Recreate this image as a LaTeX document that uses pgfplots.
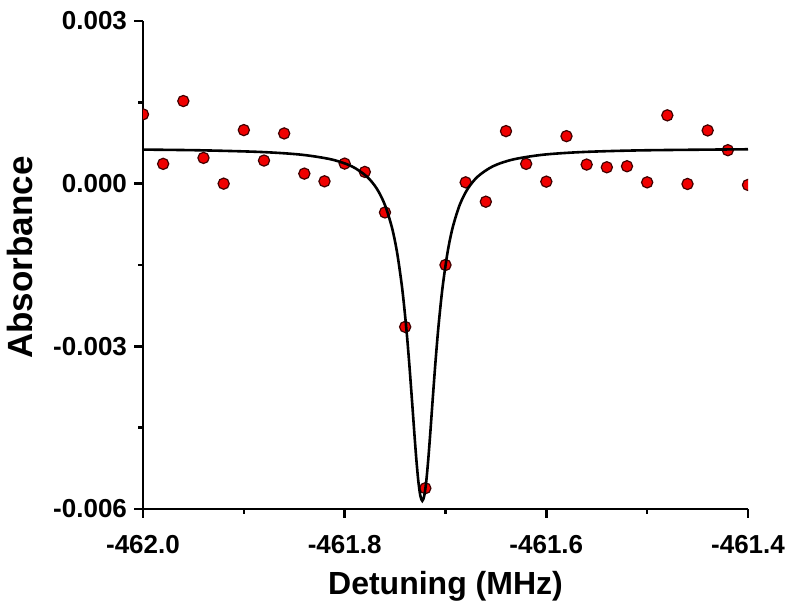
\documentclass[border=0pt]{standalone}
\usepackage{fontspec}
\setmainfont{Liberation Sans}
\usepackage{pgfplots}
\pgfplotsset{compat=1.18}
\usetikzlibrary{calc}
\definecolor{ptred}{RGB}{240,0,0}
\begin{document}
\begin{tikzpicture}
\begin{axis}[
  name=ax,
  scale only axis,
  width=302.5pt, height=244pt,
  xmin=-462.0, xmax=-461.4,
  ymin=-0.006, ymax=0.003,
  axis lines=left,
  axis line style={-, line width=1.3pt},
  every tick/.style={black, line width=1.3pt},
  tick align=outside,
  major tick length=4.5pt,
  minor tick length=2.5pt,
  minor x tick num=1,
  minor y tick num=1,
  xtick={-462.0,-461.8,-461.6,-461.4},
  xticklabels={\mbox{-462.0},\mbox{-461.8},\mbox{-461.6},\mbox{-461.4}},
  ytick={-0.006,-0.003,0,0.003},
  yticklabels={\mbox{-0.006},\mbox{-0.003},\mbox{0.000},\mbox{0.003}},
  ticklabel style={font=\bfseries\fontsize{13}{15}\selectfont},
  xticklabel style={yshift=-5pt},
  scaled ticks=false,
  xlabel={Detuning (MHz)},
  ylabel={Absorbance},
  xlabel style={font=\bfseries\fontsize{16}{19}\selectfont,
    at={(axis description cs:0.5,0)}, anchor=base, yshift=-43pt},
  ylabel style={font=\bfseries\fontsize{17.5}{20}\selectfont,
    at={(axis description cs:0,0.515)}, anchor=base, yshift=55pt},
  clip marker paths=true,
]
\addplot[only marks, mark=*, mark size=2.8pt,
  mark options={fill=ptred, draw=black!75!red, line width=0.6pt}]
coordinates {
(-462.00,0.001278) (-461.98,0.000365) (-461.96,0.001524) (-461.94,0.000475)
(-461.92,0.000000) (-461.90,0.000988) (-461.88,0.000426) (-461.86,0.000926)
(-461.84,0.000185) (-461.82,0.000043) (-461.80,0.000370) (-461.78,0.000216)
(-461.76,-0.000531) (-461.74,-0.002642) (-461.72,-0.005617) (-461.70,-0.001500)
(-461.68,0.000024) (-461.66,-0.000333) (-461.64,0.000969) (-461.62,0.000365)
(-461.60,0.000037) (-461.58,0.000876) (-461.56,0.000352) (-461.54,0.000302)
(-461.52,0.000321) (-461.50,0.000024) (-461.48,0.001260) (-461.46,-0.000006)
(-461.44,0.000981) (-461.42,0.000617) (-461.40,-0.000024)
};
\addplot[black, line width=1.3pt, smooth] coordinates {
(-462.000,0.000628) (-461.943,0.000615) (-461.883,0.000584) (-461.843,0.000534)
(-461.813,0.000446) (-461.793,0.000320) (-461.778,0.000131) (-461.768,-0.000096)
(-461.760,-0.000396) (-461.753,-0.000818) (-461.748,-0.001272) (-461.743,-0.001925)
(-461.739,-0.002640) (-461.736,-0.003304) (-461.733,-0.004057) (-461.731,-0.004576)
(-461.729,-0.005066) (-461.727,-0.005476) (-461.725,-0.005752) (-461.723,-0.005850)
(-461.721,-0.005752) (-461.719,-0.005476) (-461.717,-0.005066) (-461.715,-0.004576)
(-461.713,-0.004057) (-461.710,-0.003304) (-461.707,-0.002640) (-461.703,-0.001925)
(-461.698,-0.001272) (-461.693,-0.000818) (-461.686,-0.000396) (-461.678,-0.000096)
(-461.668,0.000131) (-461.653,0.000320) (-461.633,0.000446) (-461.603,0.000534)
(-461.563,0.000584) (-461.503,0.000615) (-461.400,0.000634)
};
\end{axis}
\pgfresetboundingbox
\path ($(ax.south west)+(-71.5pt,-53pt)$) rectangle ($(ax.north east)+(26pt,10.5pt)$);
\end{tikzpicture}
\end{document}
